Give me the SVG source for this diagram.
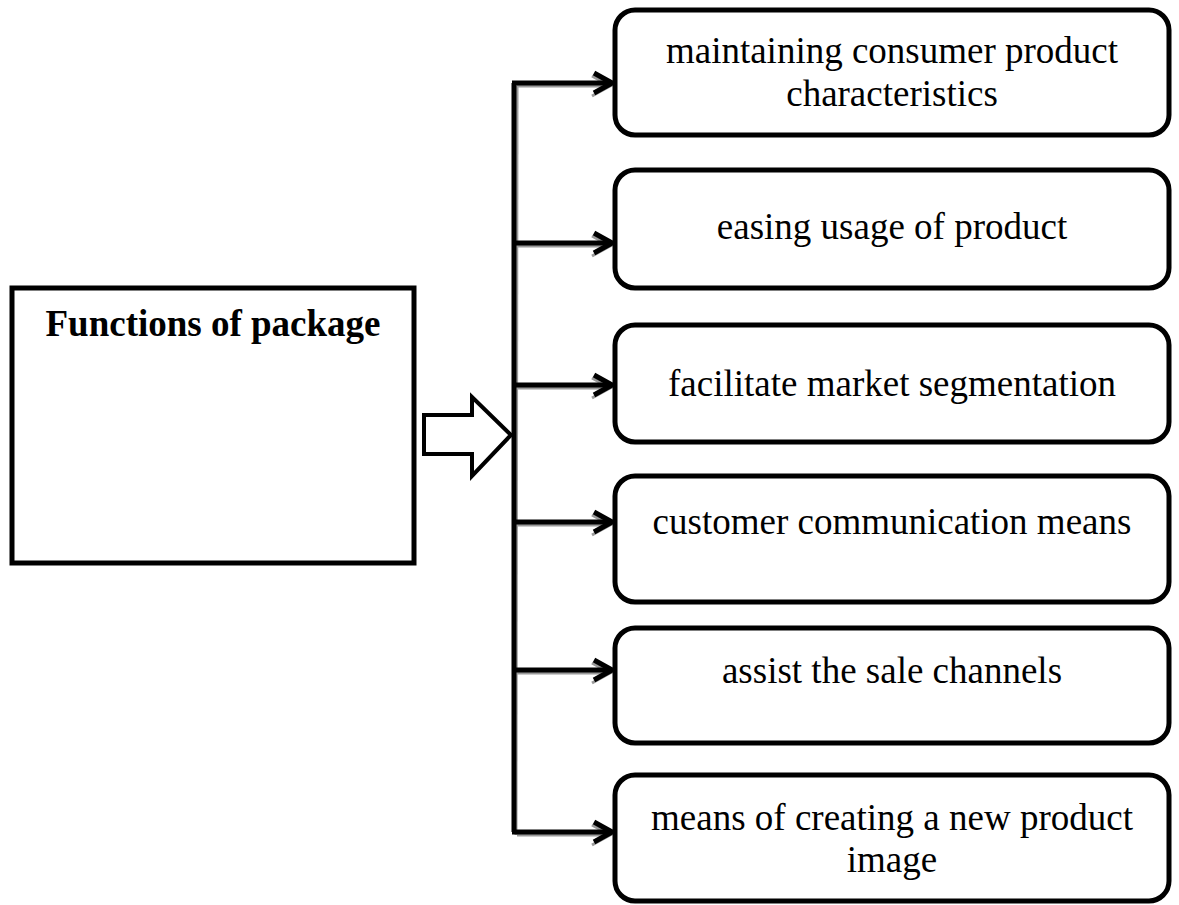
<svg xmlns="http://www.w3.org/2000/svg" width="1179" height="905" viewBox="0 0 1179 905">
<style>
.box{fill:#fff;stroke:#000;stroke-width:5}
.lbl{font-family:"Liberation Serif","Times New Roman",serif;font-size:37px;fill:#000;text-anchor:middle}
.bold{font-weight:bold}
.conn{fill:none;stroke:#000;stroke-width:5}
.shadow{fill:none;stroke:#9a9a9a;stroke-width:3}
</style>
<defs>
<marker id="chev" markerUnits="userSpaceOnUse" viewBox="0 0 26 26" markerWidth="26" markerHeight="26" refX="22" refY="13" orient="auto">
<path d="M4,3 L22,13 L4,23" fill="none" stroke="#000" stroke-width="5" stroke-linejoin="miter"/>
</marker>
<marker id="chevs" markerUnits="userSpaceOnUse" viewBox="0 0 26 26" markerWidth="26" markerHeight="26" refX="22" refY="13" orient="auto">
<path d="M4,3 L22,13 L4,23" fill="none" stroke="#9a9a9a" stroke-width="3"/>
</marker>
</defs>

<g id="source">
<rect class="box" x="12" y="288" width="402" height="275"/>
<text class="lbl bold" x="213" y="336">Functions of package</text>
</g>

<g id="big-arrow">
<path d="M424,415 L472,415 L472,397 L511,435 L472,476 L472,454 L424,454 Z" fill="#fff" stroke="#000" stroke-width="4"/>
</g>

<g id="connectors">
<g id="shadows">
<path class="shadow" d="M517,86 L516,835"/>
<path class="shadow" d="M517,86 L610,86" marker-end="url(#chevs)"/>
<path class="shadow" d="M517,246 L610,246" marker-end="url(#chevs)"/>
<path class="shadow" d="M517,388 L610,388" marker-end="url(#chevs)"/>
<path class="shadow" d="M517,525 L610,525" marker-end="url(#chevs)"/>
<path class="shadow" d="M517,673 L610,673" marker-end="url(#chevs)"/>
<path class="shadow" d="M517,835 L610,835" marker-end="url(#chevs)"/>
</g>
<path class="conn" d="M514,83 L514,832"/>
<path class="conn" d="M512,83 L612,83" marker-end="url(#chev)"/>
<path class="conn" d="M514,243 L612,243" marker-end="url(#chev)"/>
<path class="conn" d="M514,385 L612,385" marker-end="url(#chev)"/>
<path class="conn" d="M514,522 L612,522" marker-end="url(#chev)"/>
<path class="conn" d="M514,670 L612,670" marker-end="url(#chev)"/>
<path class="conn" d="M512,832 L612,832" marker-end="url(#chev)"/>
</g>

<g id="f1">
<rect class="box" x="615" y="10" width="554" height="125" rx="20"/>
<text class="lbl" x="892" y="63">maintaining consumer product</text>
<text class="lbl" x="892" y="106">characteristics</text>
</g>
<g id="f2">
<rect class="box" x="615" y="170" width="554" height="118" rx="20"/>
<text class="lbl" x="892" y="239">easing usage of product</text>
</g>
<g id="f3">
<rect class="box" x="615" y="325" width="554" height="117" rx="20"/>
<text class="lbl" x="892" y="396">facilitate market segmentation</text>
</g>
<g id="f4">
<rect class="box" x="615" y="476" width="554" height="126" rx="20"/>
<text class="lbl" x="892" y="534">customer communication means</text>
</g>
<g id="f5">
<rect class="box" x="615" y="628" width="554" height="115" rx="20"/>
<text class="lbl" x="892" y="683">assist the sale channels</text>
</g>
<g id="f6">
<rect class="box" x="615" y="775" width="554" height="126" rx="20"/>
<text class="lbl" x="892" y="830">means of creating a new product</text>
<text class="lbl" x="892" y="872">image</text>
</g>
</svg>
